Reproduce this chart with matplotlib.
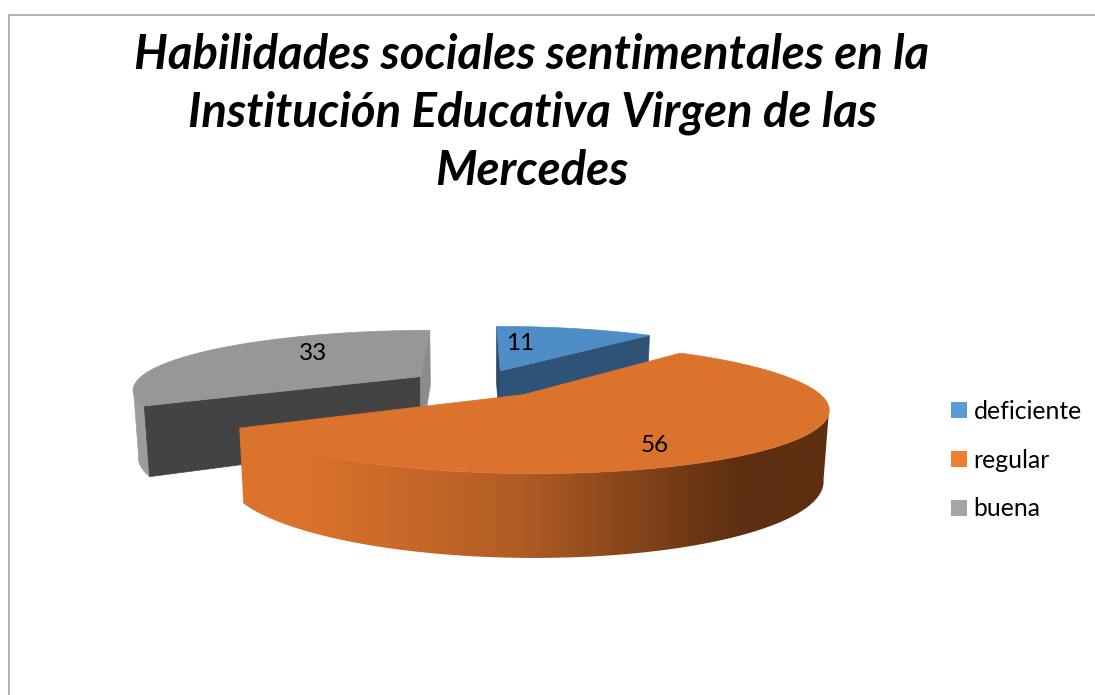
import numpy as np
import matplotlib
matplotlib.use("Agg")
import matplotlib.pyplot as plt
from matplotlib.colors import LinearSegmentedColormap
from matplotlib.patches import Polygon, Patch

# chart data
title = "Habilidades sociales sentimentales en la\nInstitución Educativa Virgen de las\nMercedes"
labels = ["deficiente", "regular", "buena"]
values = [11, 56, 33]
legend_colors = ["#5b9bd5", "#ed7d31", "#a5a5a5"]
top_colors = ["#4f8dc6", "#dc732c", "#979797"]
rim_colors = ["#2f5277", None, "#9c9c9c"]
cut_start_colors = ["#2b4a6c", None, "#434343"]
cut_end_colors = ["#2f5277", None, "#8c8c8c"]

# fake 3d view, in pixels
cx, cy = 478, 383.5
rx, ry, depth = 286, 58, 67
persp, persp_z, explode = 0.2, 0.015, 0.24

plt.rcParams["font.family"] = ["Lato", "DejaVu Sans"]
fig = plt.figure(figsize=(10.95, 6.95), dpi=100)
ax = fig.add_axes([0, 0, 1, 1])

orange_wall = LinearSegmentedColormap.from_list("orange_wall", ["#dc732c", "#b05c25", "#5e2f10"], N=512)


def project(u, v, z=0.0):
    d = 1 + persp * v + persp_z * z
    return np.column_stack([cx + rx * u / d, cy - ry * v / d + depth * z / d])


def draw_slice(i, a0, a1):
    mid = (a0 + a1) / 2
    u0, v0 = explode * np.sin(mid), explode * np.cos(mid)
    t = np.linspace(a0, a1, 300)
    ru, rv = u0 + np.sin(t), v0 + np.cos(t)

    # outer wall, from the silhouette of the rim round the near side
    front = np.cos(t) < -persp / (1 + persp * v0)
    if front.any():
        upper = project(ru[front], rv[front], 0.0)
        lower = project(ru[front], rv[front], 1.0)
        wall = np.vstack([upper, lower[::-1]])
        if i == 1:
            # shading runs left to right across the orange wall
            poly = Polygon(wall, closed=True, fc="none", ec="none")
            ax.add_patch(poly)
            x0, x1 = wall[:, 0].min(), wall[:, 0].max()
            y0, y1 = wall[:, 1].min(), wall[:, 1].max()
            shade = np.clip((np.linspace(x0, x1, 600) - 304) / (737 - 304), 0, 1)
            im = ax.imshow(shade[None, :], extent=(x0, x1, y1, y0), cmap=orange_wall,
                           vmin=0, vmax=1, aspect="auto", zorder=poly.get_zorder())
            im.set_clip_path(poly)
        else:
            ax.add_patch(Polygon(wall, closed=True, fc=rim_colors[i], ec=rim_colors[i], lw=0.5))

    # flat cut faces, when they look towards us
    for a, col, facing in ((a0, cut_start_colors[i], np.sin(a0)),
                           (a1, cut_end_colors[i], -np.sin(a1))):
        if facing <= 1e-6:
            uu = np.array([u0, u0 + np.sin(a), u0 + np.sin(a), u0])
            vv = np.array([v0, v0 + np.cos(a), v0 + np.cos(a), v0])
            zz = np.array([0, 0, 1, 1])
            ax.add_patch(Polygon(project(uu, vv, zz), closed=True, fc=col, ec=col, lw=0.5))

    # top face
    top = project(np.r_[u0, ru], np.r_[v0, rv])
    ax.add_patch(Polygon(top, closed=True, fc=top_colors[i], ec=top_colors[i], lw=0.5))


# slices start at 12 o'clock and go clockwise, back ones first
edges = np.r_[0, np.cumsum(values)] / np.sum(values) * 2 * np.pi
for i in (2, 0, 1):
    draw_slice(i, edges[i], edges[i + 1])

ax.set_xlim(0, 1095)
ax.set_ylim(695, 0)
ax.axis("off")

ax.text(520, 344, str(values[0]), ha="center", va="center", fontsize=17.5, color="black")
ax.text(655, 445, str(values[1]), ha="center", va="center", fontsize=17.5, color="black")
ax.text(313, 353, str(values[2]), ha="center", va="center", fontsize=17.5, color="black")

ax.text(532, 113, title, ha="center", va="center", fontsize=34, fontweight="bold",
        fontstyle="italic", linespacing=1.37, color="black")

# frame only shows on top and left
ax.plot([9, 9, 1095], [695, 14.5, 14.5], color="#a6a6a6", lw=1.2, clip_on=False)

handles = [Patch(fc=c, ec="none") for c in legend_colors]
ax.legend(handles, labels, loc="center left", bbox_to_anchor=(929 / 1095, 1 - 460 / 695),
          frameon=False, fontsize=17.8, handlelength=0.62, handleheight=0.62,
          handletextpad=0.28, labelspacing=1.05)

fig.savefig("out.png", dpi=100)
